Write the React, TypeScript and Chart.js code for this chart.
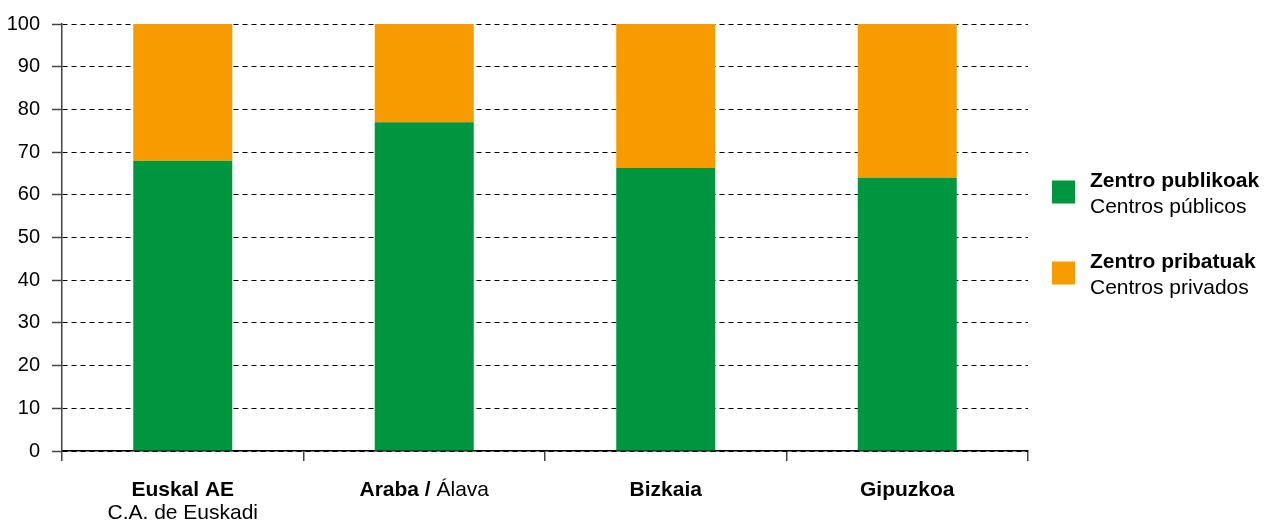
import React, { useEffect, useRef } from "react";
import { Chart, registerables } from "chart.js";

Chart.register(...registerables);

// Category names (Basque / Spanish)
const categoriesEu = ["Euskal AE", "Araba", "Bizkaia", "Gipuzkoa"];
const categoriesEs = ["C.A. de Euskadi", "Álava", "", ""];

// Series names (Basque / Spanish)
const seriesEu = ["Zentro publikoak", "Zentro pribatuak"];
const seriesEs = ["Centros públicos", "Centros privados"];
const seriesColors = ["#009640", "#F79C00"];

// Values (%)
const publicValues = [68.0, 77.0, 66.3, 64.0];
const privateValues = [32.0, 23.0, 33.7, 36.0];

// Y-axis ticks
const yMin = 0;
const yMax = 100;
const yStep = 10;

const FONT = '"Liberation Sans", Arial, Helvetica, sans-serif';

const customText = {
  id: "customText",
  afterDraw(chart: any) {
    const ctx = chart.ctx;
    const xs = chart.scales.x;
    const area = chart.chartArea;
    ctx.save();
    ctx.fillStyle = "#000";
    ctx.textBaseline = "alphabetic";
    const bold = `bold 21px ${FONT}`;
    const normal = `21px ${FONT}`;
    categoriesEu.forEach((eu, i) => {
      const cx = xs.getPixelForValue(i);
      const es = categoriesEs[i];
      const base = area.bottom + 45;
      if (!es) {
        ctx.font = bold;
        ctx.textAlign = "center";
        ctx.fillText(eu, cx, base);
      } else if (es.includes(" ")) {
        ctx.textAlign = "center";
        ctx.font = bold;
        ctx.fillText(eu, cx, base);
        ctx.font = normal;
        ctx.fillText(es, cx, base + 23);
      } else {
        const p1 = eu + " /";
        const p2 = " " + es;
        ctx.font = bold;
        const w1 = ctx.measureText(p1).width;
        ctx.font = normal;
        const w2 = ctx.measureText(p2).width;
        const start = cx - (w1 + w2) / 2;
        ctx.textAlign = "left";
        ctx.font = bold;
        ctx.fillText(p1, start, base);
        ctx.font = normal;
        ctx.fillText(p2, start + w1, base);
      }
    });

    // Legend
    const lx = area.right + 24;
    const midY = (area.top + area.bottom) / 2;
    const groupGap = 81;
    const firstTop = midY - 57;
    seriesEu.forEach((name, i) => {
      const top = firstTop + i * groupGap;
      ctx.fillStyle = seriesColors[i];
      ctx.fillRect(lx, top, 23, 23);
      ctx.fillStyle = "#000";
      ctx.textAlign = "left";
      ctx.font = bold;
      ctx.fillText(name, lx + 38, top + 6);
      ctx.font = normal;
      ctx.fillText(seriesEs[i], lx + 38, top + 32);
    });
    ctx.restore();
  },
};

export default function App() {
  const ref = useRef<HTMLCanvasElement>(null);
  useEffect(() => {
    if (!ref.current) return;
    const chart = new Chart(ref.current, {
      type: "bar",
      data: {
        labels: categoriesEu.map((eu, i) => (categoriesEs[i] ? `${eu} / ${categoriesEs[i]}` : eu)),
        datasets: [
          {
            label: `${seriesEu[0]} / ${seriesEs[0]}`,
            data: publicValues,
            backgroundColor: seriesColors[0],
            borderWidth: 0,
            categoryPercentage: 1,
            barPercentage: 0.41,
          },
          {
            label: `${seriesEu[1]} / ${seriesEs[1]}`,
            data: privateValues,
            backgroundColor: seriesColors[1],
            borderWidth: 0,
            categoryPercentage: 1,
            barPercentage: 0.41,
          },
        ],
      },
      options: {
        animation: false,
        responsive: false,
        maintainAspectRatio: false,
        layout: { padding: { top: 24, right: 236, left: 0, bottom: 0 } },
        plugins: {
          legend: { display: false },
          tooltip: { enabled: false },
        },
        scales: {
          x: {
            stacked: true,
            offset: true,
            grid: {
              offset: true,
              drawOnChartArea: false,
              drawTicks: true,
              tickLength: 10,
              tickColor: "#444",
              tickWidth: 1.5,
              lineWidth: 1.5,
              color: "#444",
            },
            border: { display: true, color: "#000", width: 1.5 },
            ticks: { display: false },
            afterFit: (scale: any) => {
              scale.height = 72;
            },
          },
          y: {
            stacked: true,
            min: yMin,
            max: yMax,
            grid: {
              color: "#000",
              lineWidth: 1,
              tickLength: 10,
              tickColor: "#444",
              tickWidth: 1.5,
              tickBorderDash: [],
            },
            border: { display: true, color: "#444", width: 1.5, dash: [5, 4] },
            ticks: {
              stepSize: yStep,
              padding: 12,
              color: "#000",
              font: { family: FONT, size: 20 },
            },
            afterFit: (scale: any) => {
              scale.width = 62;
            },
          },
        },
      },
      plugins: [customText],
    });
    return () => chart.destroy();
  }, []);
  return (
    <div style={{ position: "fixed", left: 0, top: 0, width: 1264, height: 523, background: "#fff" }}>
      <canvas ref={ref} width={1264} height={523} />
    </div>
  );
}
